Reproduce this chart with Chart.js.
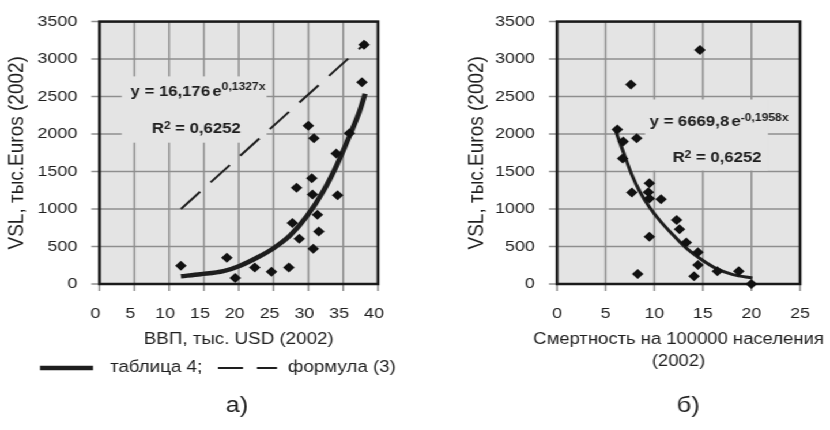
<!DOCTYPE html>
<html lang="ru">
<head>
<meta charset="UTF-8">
<title>VSL</title>
<script src="https://cdn.jsdelivr.net/npm/chart.js@4.4.0/dist/chart.umd.min.js"></script>
<style>
  body { margin: 0; background: #fff; }
  /* the figure is laid out on a 720px grid and widened to 830px */
  .figure { width: 720px; height: 430px; display: flex; transform: scaleX(1.1528); transform-origin: 0 0; }
  .panel { position: relative; width: 360px; height: 430px; }
</style>
</head>
<body>
<div class="figure">
  <div class="panel"><canvas id="gdpChart"></canvas></div>
  <div class="panel"><canvas id="mortChart"></canvas></div>
</div>

<script>
// panel a: VSL vs GDP per capita
const gdpX   = [11.7, 18.3, 19.5, 22.3, 24.7, 27.2, 27.7, 28.7, 28.3, 30.0, 30.8, 30.5, 30.6, 30.7, 31.3, 31.5, 34.0, 34.2, 35.9, 37.7, 38.0];
const gdpVsl = [245, 350, 80, 220, 165, 220, 815, 605, 1285, 2110, 1945, 1410, 1195, 470, 925, 700, 1740, 1185, 2010, 2690, 3190];
const gdpFitX = [11.7, 14.5, 17.8, 20.2, 22.6, 25.0, 27.4, 29.8, 32.2, 34.1, 36.0, 37.4, 38.15];
const gdpFitY = [103, 130, 171, 244, 350, 478, 650, 906, 1247, 1590, 1996, 2317, 2538];
const formulaX = [11.7, 38.4];
const formulaY = [1000, 3230];
const gdpTicks = [0, 5, 10, 15, 20, 25, 30, 35, 40];

// panel b: VSL vs road deaths per 100000
const mortX   = [6.2, 6.8, 6.75, 7.6, 7.7, 8.2, 8.3, 9.5, 9.4, 9.5, 9.5, 10.7, 12.3, 12.6, 13.3, 14.5, 14.5, 14.1, 14.7, 16.5, 18.7, 20.0];
const mortVsl = [2060, 1900, 1675, 2660, 1220, 1945, 135, 1345, 1225, 1140, 630, 1130, 855, 730, 555, 425, 255, 105, 3120, 170, 170, 0];
const mortFitX = [5.97, 6.82, 7.68, 8.54, 9.57, 10.6, 11.97, 13.3, 14.7, 16.4, 18.1, 20.1];
const mortFitY = [2068, 1760, 1461, 1227, 1013, 842, 650, 478, 340, 205, 125, 80];
const mortTicks = [0, 5, 10, 15, 20, 25];

const vslTicks = [0, 500, 1000, 1500, 2000, 2500, 3000, 3500];

const FONT = '"Liberation Sans", Arial, Helvetica, sans-serif';
const INK = '#1e1e1e';
const PLOT_BG = '#e4e4e4';
const GRID = '#8e8e8e';
const TICK_LEN = 7;

// grid positions per canvas
const gridTicks = {
  gdpChart: { x: gdpTicks, y: vslTicks },
  mortChart: { x: mortTicks, y: vslTicks }
};

const pts = (xs, ys) => xs.map((x, i) => ({ x: x, y: ys[i] }));

// plot background, grid, label box, frame, equations, legend, caption
const figurePlugin = {
  id: 'figure',
  beforeDatasetsDraw(chart, args, opts) {
    const { ctx, chartArea: a } = chart;
    const xs = chart.scales.x, ys = chart.scales.y;
    const g = gridTicks[chart.canvas.id];
    ctx.save();
    ctx.fillStyle = PLOT_BG;
    ctx.fillRect(a.left, a.top, a.right - a.left, a.bottom - a.top);
    // grid lines with short outer tick marks
    ctx.strokeStyle = GRID;
    ctx.lineWidth = 1.5;
    ctx.beginPath();
    g.x.forEach(v => {
      const px = xs.getPixelForValue(v);
      ctx.moveTo(px, a.top);
      ctx.lineTo(px, a.bottom + TICK_LEN);
    });
    g.y.forEach(v => {
      const py = ys.getPixelForValue(v);
      ctx.moveTo(a.left - TICK_LEN, py);
      ctx.lineTo(a.right, py);
    });
    ctx.stroke();
    // label box hides the grid behind the equation
    const b = opts.box;
    const bx0 = xs.getPixelForValue(b.x0), bx1 = xs.getPixelForValue(b.x1);
    const by0 = ys.getPixelForValue(b.y1), by1 = ys.getPixelForValue(b.y0);
    ctx.fillStyle = PLOT_BG;
    ctx.fillRect(bx0, by0, bx1 - bx0, by1 - by0);
    // frame
    ctx.strokeStyle = '#1a1a1a';
    ctx.lineWidth = 2.5;
    ctx.strokeRect(a.left, a.top, a.right - a.left, a.bottom - a.top);
    // equation lines
    ctx.fillStyle = INK;
    ctx.textBaseline = 'alphabetic';
    opts.notes.forEach(note => {
      let w = 0;
      note.parts.forEach(p => {
        ctx.font = p.font;
        p.w = ctx.measureText(p.t).width;
        w += p.w + (p.gap || 0);
      });
      let x = xs.getPixelForValue(note.x) - w / 2;
      const y = ys.getPixelForValue(note.y);
      note.parts.forEach(p => {
        x += p.gap || 0;
        ctx.font = p.font;
        ctx.fillText(p.t, x, y - (p.rise || 0));
        x += p.w;
      });
    });
    ctx.restore();
  },
  afterDraw(chart, args, opts) {
    const { ctx, chartArea: a } = chart;
    ctx.save();
    ctx.fillStyle = INK;
    ctx.strokeStyle = INK;
    ctx.textBaseline = 'middle';
    if (opts.xTitle) {
      // long axis title, allowed to run wider than the plot
      ctx.font = opts.xTitle.size + 'px ' + FONT;
      ctx.textAlign = 'center';
      const cx = (a.left + a.right) / 2;
      opts.xTitle.lines.forEach((t, i) => {
        ctx.fillText(t, cx, opts.xTitle.y + i * opts.xTitle.step);
      });
    }
    if (opts.legend) {
      const L = opts.legend;
      ctx.lineWidth = 4.5;
      ctx.beginPath();
      ctx.moveTo(L.solid[0], L.y);
      ctx.lineTo(L.solid[1], L.y);
      ctx.stroke();
      ctx.lineWidth = 2;
      ctx.setLineDash([21.7, 12.1]);
      ctx.beginPath();
      ctx.moveTo(L.dash[0], L.y);
      ctx.lineTo(L.dash[1], L.y);
      ctx.stroke();
      ctx.setLineDash([]);
      ctx.font = '16.3px ' + FONT;
      ctx.textAlign = 'left';
      ctx.fillText('таблица 4;', L.text1, L.y);
      ctx.fillText('формула (3)', L.text2, L.y);
    }
    ctx.font = '22px ' + FONT;
    ctx.textAlign = 'center';
    ctx.fillText(opts.caption.text, opts.caption.x, opts.caption.y);
    ctx.restore();
  }
};

const BOLD = 'bold 14.5px ' + FONT;
const SUP = 'bold 10.5px ' + FONT;

function makeChart(id, cfg) {
  return new Chart(document.getElementById(id), {
    type: 'scatter',
    data: { datasets: cfg.datasets },
    options: {
      responsive: true,
      maintainAspectRatio: false,
      animation: false,
      layout: { padding: cfg.padding },
      plugins: {
        legend: { display: false },
        tooltip: { enabled: false },
        figure: cfg.figure
      },
      scales: {
        x: {
          type: 'linear',
          min: cfg.xMin, max: cfg.xMax,
          afterBuildTicks: s => { s.ticks = cfg.xTicks.map(v => ({ value: v })); },
          afterFit: s => { s.height = cfg.xHeight; },
          grid: { display: false, tickLength: TICK_LEN },
          border: { display: false },
          ticks: {
            color: INK, font: { family: FONT, size: 15.5 }, padding: 13,
            labelOffset: cfg.xLabelOffset, maxRotation: 0,
            callback: v => String(v)
          },
          title: {
            display: !!cfg.xTitle, text: cfg.xTitle || '', color: INK,
            font: { family: FONT, size: 16.3 },
            padding: { top: 0, bottom: 0 }
          }
        },
        y: {
          type: 'linear',
          min: 0, max: 3500,
          afterBuildTicks: s => { s.ticks = vslTicks.map(v => ({ value: v })); },
          afterFit: s => { s.width = cfg.yWidth; },
          grid: { display: false, tickLength: TICK_LEN },
          border: { display: false },
          ticks: {
            color: INK, font: { family: FONT, size: 15.5 }, padding: 12.3,
            callback: v => String(v)
          },
          title: {
            display: true, text: 'VSL, тыс.Euros (2002)', color: INK,
            font: { family: FONT, size: 19 },
            padding: { top: cfg.yTitlePad, bottom: 0 }
          }
        }
      }
    },
    plugins: [figurePlugin]
  });
}

const markStyle = {
  pointStyle: 'rectRot', pointRadius: 5, pointBackgroundColor: '#111',
  pointBorderWidth: 0, showLine: false, clip: false, order: 0
};

makeChart('gdpChart', {
  padding: { left: 0, right: 32.1, top: 1, bottom: 81.2 },
  xMin: 0, xMax: 40, xTicks: gdpTicks, xHeight: 64.8, xLabelOffset: -3.5,
  xTitle: 'ВВП, тыс. USD (2002)',
  yWidth: 86.3, yTitlePad: 3.3,
  datasets: [
    Object.assign({ label: 'VSL', data: pts(gdpX, gdpVsl) }, markStyle),
    { label: 'таблица 4', data: pts(gdpFitX, gdpFitY), showLine: true, pointRadius: 0,
      borderColor: INK, borderWidth: 4.5, cubicInterpolationMode: 'monotone', clip: false, order: 1 },
    { label: 'формула (3)', data: pts(formulaX, formulaY), showLine: true, pointRadius: 0,
      borderColor: INK, borderWidth: 2, borderDash: [24, 13], clip: false, order: 2 }
  ],
  figure: {
    box: { x0: 3.2, x1: 24.0, y0: 1885, y1: 2769 },
    notes: [
      { x: 14.15, y: 2513, parts: [
        { t: 'y = 16,176', font: BOLD }, { t: 'e', font: BOLD, gap: 2 },
        { t: '0,1327x', font: SUP, rise: 5.5 } ] },
      { x: 13.9, y: 2017, parts: [
        { t: 'R', font: BOLD }, { t: '2', font: SUP, rise: 4 },
        { t: ' = 0,6252', font: BOLD } ] }
    ],
    legend: { y: 368, solid: [34.7, 80.7], dash: [189.1, 240.3], text1: 95.4, text2: 249.8 },
    caption: { text: 'а)', x: 205.6, y: 406 }
  }
});

makeChart('mortChart', {
  padding: { left: 40, right: 26, top: 1, bottom: 57 },
  xMin: 0, xMax: 25, xTicks: mortTicks, xHeight: 89, xLabelOffset: 0,
  xTitle: null,
  yWidth: 83.2, yTitlePad: 2.4,
  datasets: [
    Object.assign({ label: 'VSL', data: pts(mortX, mortVsl) }, markStyle),
    { label: 'тренд', data: pts(mortFitX, mortFitY), showLine: true, pointRadius: 0,
      borderColor: INK, borderWidth: 3, cubicInterpolationMode: 'monotone', clip: false, order: 1 }
  ],
  figure: {
    box: { x0: 9.06, x1: 21.7, y0: 1513, y1: 2461 },
    notes: [
      { x: 16.67, y: 2102, parts: [
        { t: 'y = 6669,8', font: BOLD }, { t: 'e', font: BOLD, gap: 2 },
        { t: '-0,1958x', font: SUP, rise: 5.5 } ] },
      { x: 16.46, y: 1632, parts: [
        { t: 'R', font: BOLD }, { t: '2', font: SUP, rise: 4 },
        { t: ' = 0,6252', font: BOLD } ] }
    ],
    xTitle: { lines: ['Смертность на 100000 населения', '(2002)'], size: 16, y: 340, step: 22 },
    caption: { text: 'б)', x: 237, y: 406 }
  }
});
</script>
</body>
</html>
